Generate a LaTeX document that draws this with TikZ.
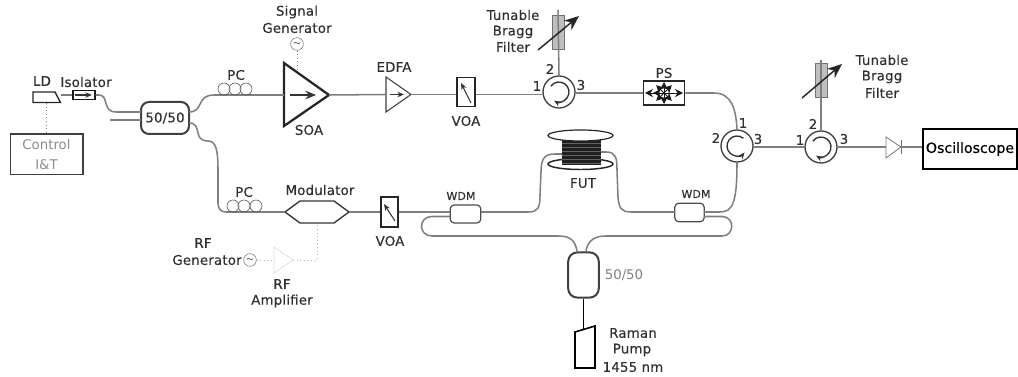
\documentclass[tikz,border=0pt]{standalone}
\usepackage{fontspec}
\setmainfont{DejaVu Sans}
\newfontfamily\boldishfont[FakeBold=0.35,LetterSpace=1.5]{DejaVu Sans}
\usetikzlibrary{arrows.meta}
\definecolor{fibreGray}{HTML}{7F7F7F}
\definecolor{labelInk}{HTML}{303030}
\tikzset{
  fibre/.style={draw=fibreGray,line width=1.15pt},
  thinfibre/.style={draw=fibreGray,line width=1.15pt},
  lab/.style={inner sep=0pt,text=labelInk,font=\boldishfont\fontsize{10}{12}\selectfont},
  smalllab/.style={lab,font=\boldishfont\fontsize{8.2}{10}\selectfont},
  part/.style={draw=black!85,line width=1.1pt,inner sep=0pt},
  coupler/.style={draw=black!75,line width=1.5pt,fill=white,rounded corners=6,inner sep=0pt},
  wdm/.style={draw=black!70,line width=0.9pt,rounded corners=3,inner sep=0pt},
  pcloop/.style={circle,draw=black!65,line width=0.5pt,minimum size=9pt,inner sep=0pt},
  circulator/.style={circle,draw=black!75,line width=1pt,minimum size=24pt,inner sep=0pt},
  sigsource/.style={circle,draw=black!55,line width=0.4pt,minimum size=9.5pt,inner sep=0pt,font=\fontsize{6}{6}\selectfont},
  ctrlline/.style={draw=black!50,line width=0.7pt,dotted},
  grating/.style={draw=black!55,fill=black!25,line width=0.6pt,inner sep=0pt,minimum width=9pt,minimum height=26pt},
  tune/.style={draw=black!85,line width=1.1pt,-{Stealth[length=11pt,width=9pt]}},
  inarrow/.style={draw=black!80,line width=0.8pt,-{Stealth[length=5pt,width=4pt]}}
}
\begin{document}
\begin{tikzpicture}[x=0.75pt,y=0.75pt,yscale=-1,xscale=1]
\useasboundingbox (0,0) rectangle (1018,377);
% Sources
\coordinate (ldOut) at (60.5,95);
\draw [part,line width=1pt] (33,92) -- (55,92) -- (60.5,102.5) -- (33,102.5) -- cycle;
\node [part,draw=black!90,minimum width=16.5pt,minimum height=6.5pt] (iso) at (84,95) {};
\draw [inarrow] (75,95) -- (92,95);
\node [draw=black!75,line width=1pt,minimum width=54.5pt,minimum height=30.5pt,inner sep=0pt,text=black!45,align=center,font=\fontsize{10}{15}\selectfont] (ctrl) at (46.5,154.5) {Control\\I\&T};
\coordinate (ldBase) at (46.5,103);
\draw [ctrlline,line width=1pt] (ldBase) -- (ctrl.north);
% Input coupler
\node [coupler,minimum width=36pt,minimum height=24pt,font=\boldishfont\fontsize{10}{12}\selectfont,text=labelInk] (cplA) at (165,118) {50/50};
\coordinate (cplAinA) at (141,112);
\coordinate (cplAinB) at (141,120);
\coordinate (cplAoutA) at (189,112);
\coordinate (cplAoutB) at (189,123);
\coordinate (freeIn) at (110,120);
%Straight Lines
\draw [thinfibre] (ldOut) -- (iso.west);
\draw [fibre] (iso.east) -- (99,95) .. controls (109,95) and (102,112) .. (116,112) -- (cplAinA);
\draw [thinfibre] (freeIn) -- (cplAinB);
% Upper arm
\coordinate (soaIn) at (284,95);
\coordinate (soaOut) at (329,95);
\draw [draw=black!85,line width=1.7pt,line join=miter] (284,63) -- (soaOut) -- (284,126) -- cycle;
\draw [inarrow,line width=1.1pt,-{Stealth[length=8pt,width=6.5pt]}] (290,95) -- (316,95);
\draw [fibre] (cplAoutA) .. controls (204,112) and (196,95) .. (214,95) -- (soaIn);
\foreach \cx/\nm in {224/a,235/b,246/c}
  \node [pcloop] (pcU\nm) at (\cx,89) {};
\node [sigsource] (sigGen) at (297,44) {$\sim$};
\coordinate (soaTop) at (297,70);
\draw [ctrlline] (sigGen.south) -- (soaTop);
\coordinate (edfaIn) at (386,94.5);
\coordinate (edfaOut) at (411,94.5);
\draw [draw=black!75,line width=0.8pt] (386,77) -- (edfaOut) -- (386,112) -- cycle;
\draw [inarrow] (390,94.5) -- (404,94.5);
\draw [thinfibre] (soaOut) -- (edfaIn);
\node [part,minimum width=13.5pt,minimum height=22pt] (voaU) at (466,92) {};
\draw [inarrow] (471,103) -- (461,83);
\draw [thinfibre] (edfaOut) -- (voaU.west |- edfaOut);
\node [circulator] (circA) at (559,92) {};
\draw [inarrow,line width=1pt] ([shift={(215:10)}]circA.center) arc[start angle=215,end angle=480,radius=10];
\draw [thinfibre] (voaU.east |- edfaOut) -- (circA.west |- edfaOut);
\node [grating] (fbgA) at (558,32.5) {};
\coordinate (fbgAend) at (558,10);
\draw [thinfibre] (circA.north) -- (fbgAend);
\draw [tune] (538,50) -- (579,16);
\node [part,minimum width=31pt,minimum height=18pt] (ps) at (664,93) {};
\foreach \ang in {45,90,...,315}
  \draw [draw=black!90,line width=0.7pt,-{Stealth[length=6pt,width=6pt]}] (ps.center) -- ++(\ang:11);
\foreach \ang in {0,180}
  \draw [draw=black!90,line width=0.7pt,-{Stealth[length=6pt,width=6pt]}] (ps.center) -- ++(\ang:19);
\draw [thinfibre] (circA.east |- ps) -- (ps.west);
\node [circulator] (circB) at (737,146) {};
\draw [inarrow,line width=1pt] ([shift={(310:10)}]circB.center) arc[start angle=310,end angle=40,radius=10];
\draw [fibre] (ps.east) -- (714,93) .. controls (732,93) and (736,110) .. (circB.north);
% Output
\node [circulator] (circC) at (821,147) {};
\draw [inarrow,line width=1pt] ([shift={(215:10)}]circC.center) arc[start angle=215,end angle=480,radius=10];
\draw [thinfibre] (circB.east |- circC) -- (circC.west);
\node [grating] (fbgB) at (821,80.5) {};
\coordinate (fbgBend) at (821,60);
\draw [thinfibre] (circC.north) -- (fbgBend);
\draw [tune] (802,98) -- (842,64);
\coordinate (pdIn) at (886,147);
\coordinate (pdOut) at (901,147);
\draw [draw=black!55,line width=0.6pt] (886,137) -- (pdOut) -- (886,158) -- cycle;
\draw [draw=black!55,line width=0.6pt] (901,140) -- (901,154);
\draw [thinfibre] (circC.east) -- (pdIn);
\node [draw=black,line width=1.2pt,minimum width=70.5pt,minimum height=30pt,inner sep=0pt,text=black,font=\fontsize{10.6}{12}\selectfont] (scope) at (970,149) {\boldishfont\addfontfeature{LetterSpace=0}Oscilloscope};
\draw [thinfibre] (pdOut) -- (scope.west |- pdOut);
% Lower arm
\node [draw=none,minimum size=0pt,inner sep=0pt] (modIn) at (285,212) {};
\node [draw=none,minimum size=0pt,inner sep=0pt] (modOut) at (349,212) {};
\draw [draw=black!80,line width=1pt] (modIn.center) -- (300,201) -- (334,201) -- (modOut.center) -- (334,223) -- (300,223) -- cycle;
\draw [fibre] (cplAoutB) .. controls (203,123) and (192,141) .. (208,141) .. controls (216,141) and (218,150) .. (218,170) -- (218,203) .. controls (218,209) and (221,212) .. (226,212) -- (modIn.center);
\foreach \cx/\nm in {233/a,244/b,256/c}
  \node [pcloop] (pcL\nm) at (\cx,206) {};
\node [part,minimum width=13pt,minimum height=22.5pt] (voaL) at (389.5,212) {};
\draw [inarrow] (395,221) -- (384,204);
\draw [thinfibre] (modOut.center) -- (voaL.west);
\node [wdm,minimum width=23pt,minimum height=13.5pt] (wdmL) at (465.5,214) {};
\coordinate (wdmLinA) at (450,212);
\coordinate (wdmLinB) at (450,216.5);
\coordinate (wdmLout) at (481,212);
\draw [thinfibre] (voaL.east |- wdmLinA) -- (wdmLinA);
% Fibre under test
\draw [draw=black!85,line width=1.1pt,fill=white] (580.5,164) ellipse (32.5 and 5.5);
\node [draw=none,fill=black!88,minimum width=29pt,minimum height=22pt,inner sep=0pt] (spool) at (581.5,150.5) {};
\foreach \yy in {143,147,...,163}
  \draw [draw=black!62,line width=0.3pt] (562,\yy) -- (601,\yy);
\draw [draw=black!85,line width=0.9pt,fill=white] (580.5,135.5) ellipse (32.5 and 5.5);
\coordinate (futIn) at (562,154);
\coordinate (futOut) at (601,152);
\node [wdm,minimum width=22pt,minimum height=14pt] (wdmR) at (689.5,212.5) {};
\coordinate (wdmRin) at (675,212);
\coordinate (wdmRoutA) at (704,212);
\coordinate (wdmRoutB) at (704,216.5);
\draw [fibre] (wdmLout) -- (528,212) .. controls (538,212) and (540,208) .. (540,195) -- (541,172) .. controls (541,158) and (545,154) .. (555,154) -- (futIn);
\draw [fibre] (futOut) -- (606,152) .. controls (616,152) and (617,158) .. (617,170) -- (618,197) .. controls (619,208) and (621,212) .. (631,212) -- (wdmRin);
\draw [fibre] (wdmRoutA) -- (720,212) .. controls (733,212) and (737,202) .. (circB.south);
% Raman branch
\node [coupler,minimum width=23pt,minimum height=34pt,rounded corners=7] (cplB) at (583.5,275) {};
\coordinate (cplBinA) at (577,251);
\coordinate (cplBinB) at (586,251);
\draw [fibre] (wdmRoutB) -- (722,216.5) .. controls (735,216.5) and (735,236) .. (722,236) -- (606,236) .. controls (595,236) and (588,240) .. (cplBinB);
\draw [fibre] (cplBinA) .. controls (575,240) and (570,236) .. (558,236) -- (432,236) .. controls (418,236) and (418,216.5) .. (432,216.5) -- (wdmLinB);
\coordinate (ramanTop) at (583.5,329);
\draw [draw=black,line width=1.2pt] (cplB.south) -- (ramanTop);
\draw [draw=black,line width=1.2pt] (575,332) -- (595,326) -- (595,368) -- (575,368) -- cycle;
% RF drive
\node [sigsource] (rfGen) at (250,260) {$\sim$};
\coordinate (rfIn) at (274,260);
\coordinate (rfOut) at (293,260);
\draw [draw=black!15,line width=0.5pt] (274,247) -- (rfOut) -- (274,273) -- cycle;
\coordinate (modBase) at (317,223);
\draw [ctrlline,draw=black!30] (rfGen.east) -- (rfIn);
\draw [ctrlline,draw=black!30] (rfOut) -- (317,260) -- (modBase);
% Text Node
\node [lab] (ldLab) at (42,81) {LD};
\node [lab] (isoLab) at (86,82) {Isolator};
\node [lab] (pcUlab) at (236,75) {PC};
\node [lab] (sigLabA) at (297,12) {Signal};
\node [lab] (sigLabB) at (297,28) {Generator};
\node [lab] (soaLab) at (309,130) {SOA};
\node [lab] (edfaLab) at (394,67) {EDFA};
\node [lab] (voaUlab) at (466,121) {VOA};
\node [lab] (tunA) at (513,15) {Tunable};
\node [lab] (tunB) at (513,32) {Bragg};
\node [lab] (tunC) at (513,47) {Filter};
\node [lab] (cirA1) at (537,86) {1};
\node [lab] (cirA2) at (550,69) {2};
\node [lab] (cirA3) at (581,85) {3};
\node [lab] (psLab) at (664,73) {PS};
\node [lab] (cirB1) at (743,123) {1};
\node [lab] (cirB2) at (716,138) {2};
\node [lab] (cirB3) at (758,139) {3};
\node [lab] (cirC1) at (800,140) {1};
\node [lab] (cirC2) at (813,124) {2};
\node [lab] (cirC3) at (844,139) {3};
\node [lab] (tunD) at (882,60) {Tunable};
\node [lab] (tunE) at (882,77) {Bragg};
\node [lab] (tunF) at (882,93) {Filter};
\node [lab] (pcLlab) at (244,192) {PC};
\node [lab] (modLab) at (320,190) {Modulator};
\node [lab] (voaLlab) at (390,241) {VOA};
\node [smalllab] (wdmLlab) at (461,196) {WDM};
\node [lab] (futLab) at (583,183) {FUT};
\node [smalllab] (wdmRlab) at (696,194) {WDM};
\node [lab,text=black!50,font=\fontsize{10}{12}\selectfont] (cplBlab) at (624,275) {50/50};
\node [lab] (ramLabA) at (633,333) {Raman};
\node [lab] (ramLabB) at (632,350) {Pump};
\node [lab] (ramLabC) at (633,367) {1455 nm};
\node [lab] (rfLabA) at (203,243) {RF};
\node [lab] (rfLabB) at (207,260) {Generator};
\node [lab] (ampLabA) at (282,284) {RF};
\node [lab] (ampLabB) at (282,301) {Amplifier};
\end{tikzpicture}
\end{document}
